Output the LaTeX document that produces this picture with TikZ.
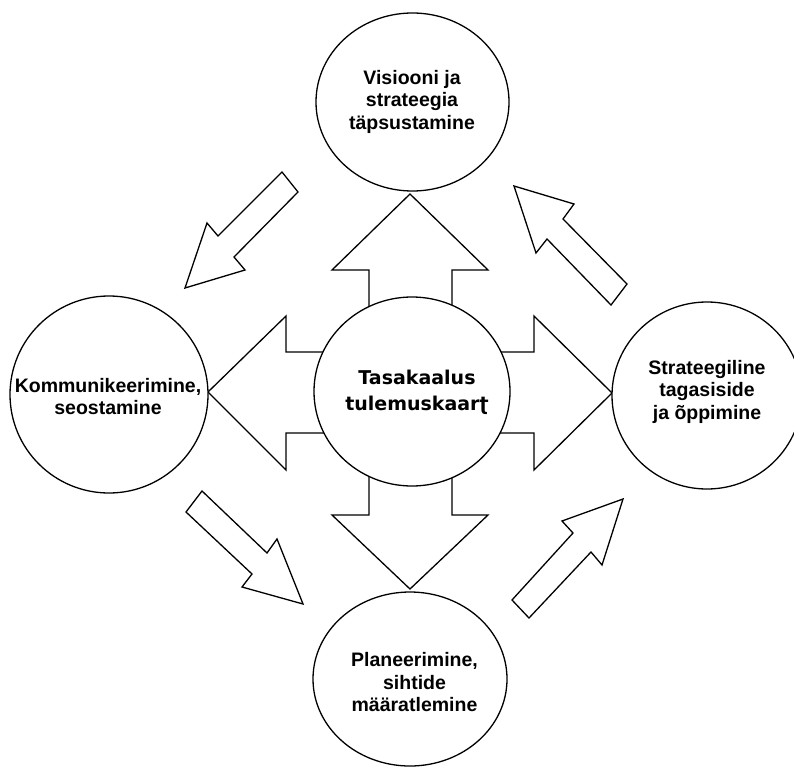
\documentclass[tikz,border=0pt]{standalone}
\usepackage{fontspec}
\setmainfont{Liberation Sans}
\newfontfamily\hubfont{DejaVu Sans}
\usetikzlibrary{shapes.geometric}

\tikzset{
  outline/.style={draw=black, line width=1.3pt, fill=white, line join=miter},
  bubble/.style={outline, ellipse, inner sep=0pt},
  lbl/.style={align=center, inner sep=0pt,
    font=\bfseries\fontsize{19.5}{22.5}\selectfont},
  hublbl/.style={align=center, inner sep=0pt,
    font=\hubfont\bfseries\fontsize{19}{26}\selectfont},
}

\begin{document}
\begin{tikzpicture}[x=1pt, y=-1pt]
  \useasboundingbox (0,0) rectangle (794,767);
  \clip (0,0) rectangle (794,767);

  % four-way block arrow behind the hub
  \draw[outline]
    (410,194) -- (488,270) -- (452,270) -- (452,352) -- (534,352) -- (534,316)
    -- (612,393) -- (534,470) -- (534,433) -- (452,433) -- (452,515) -- (488,515)
    -- (410,589) -- (332,515) -- (369,515) -- (369,433) -- (286,433) -- (286,470)
    -- (208,392) -- (286,316) -- (286,352) -- (369,352) -- (369,270) -- (332,270)
    -- cycle;

  % hub and the four surrounding stages
  \node[bubble, minimum width=196, minimum height=189] (hub)    at (412,391.5) {};
  \node[bubble, minimum width=193, minimum height=178] (vision) at (412.5,102) {};
  \node[bubble, minimum width=198, minimum height=197] (comm)   at (109,394.5) {};
  \node[bubble, minimum width=190, minimum height=187] (learn)  at (707,395.5) {};
  \node[bubble, minimum width=194, minimum height=174] (plan)   at (410,679) {};

  \node[hublbl] (hubtext)    at (417,392)   {Tasakaalus\\tulemuskaarʈ};
  \node[lbl]    (visiontext) at (412,101.5) {Visiooni ja\\strateegia\\täpsustamine};
  \node[lbl]    (commtext)   at (108,396.5) {Kommunikeerimine,\\seostamine};
  \node[lbl]    (learntext)  at (707,391.5) {Strateegiline\\tagasiside\\ja õppimine};
  \node[lbl]    (plantext)   at (414.5,682.5) {Planeerimine,\\sihtide\\määratlemine};

  % cycle arrows between the stages
  % vision -> communication
  \draw[outline] (282,172) -- (298,192) -- (234,257) -- (245,270) -- (185,288)
    -- (207,223) -- (218,236) -- cycle;
  % communication -> planning
  \draw[outline] (202,491) -- (267,553) -- (277,539) -- (303,604) -- (242,587)
    -- (252,574) -- (186,512) -- cycle;
  % planning -> feedback
  \draw[outline] (512,600) -- (573,533) -- (562,521) -- (623,499) -- (602,565)
    -- (591,552) -- (529,618) -- cycle;
  % feedback -> vision
  \draw[outline] (611,305) -- (547,239) -- (536,253) -- (514,186) -- (574,204)
    -- (563,219) -- (627,284) -- cycle;
\end{tikzpicture}
\end{document}
